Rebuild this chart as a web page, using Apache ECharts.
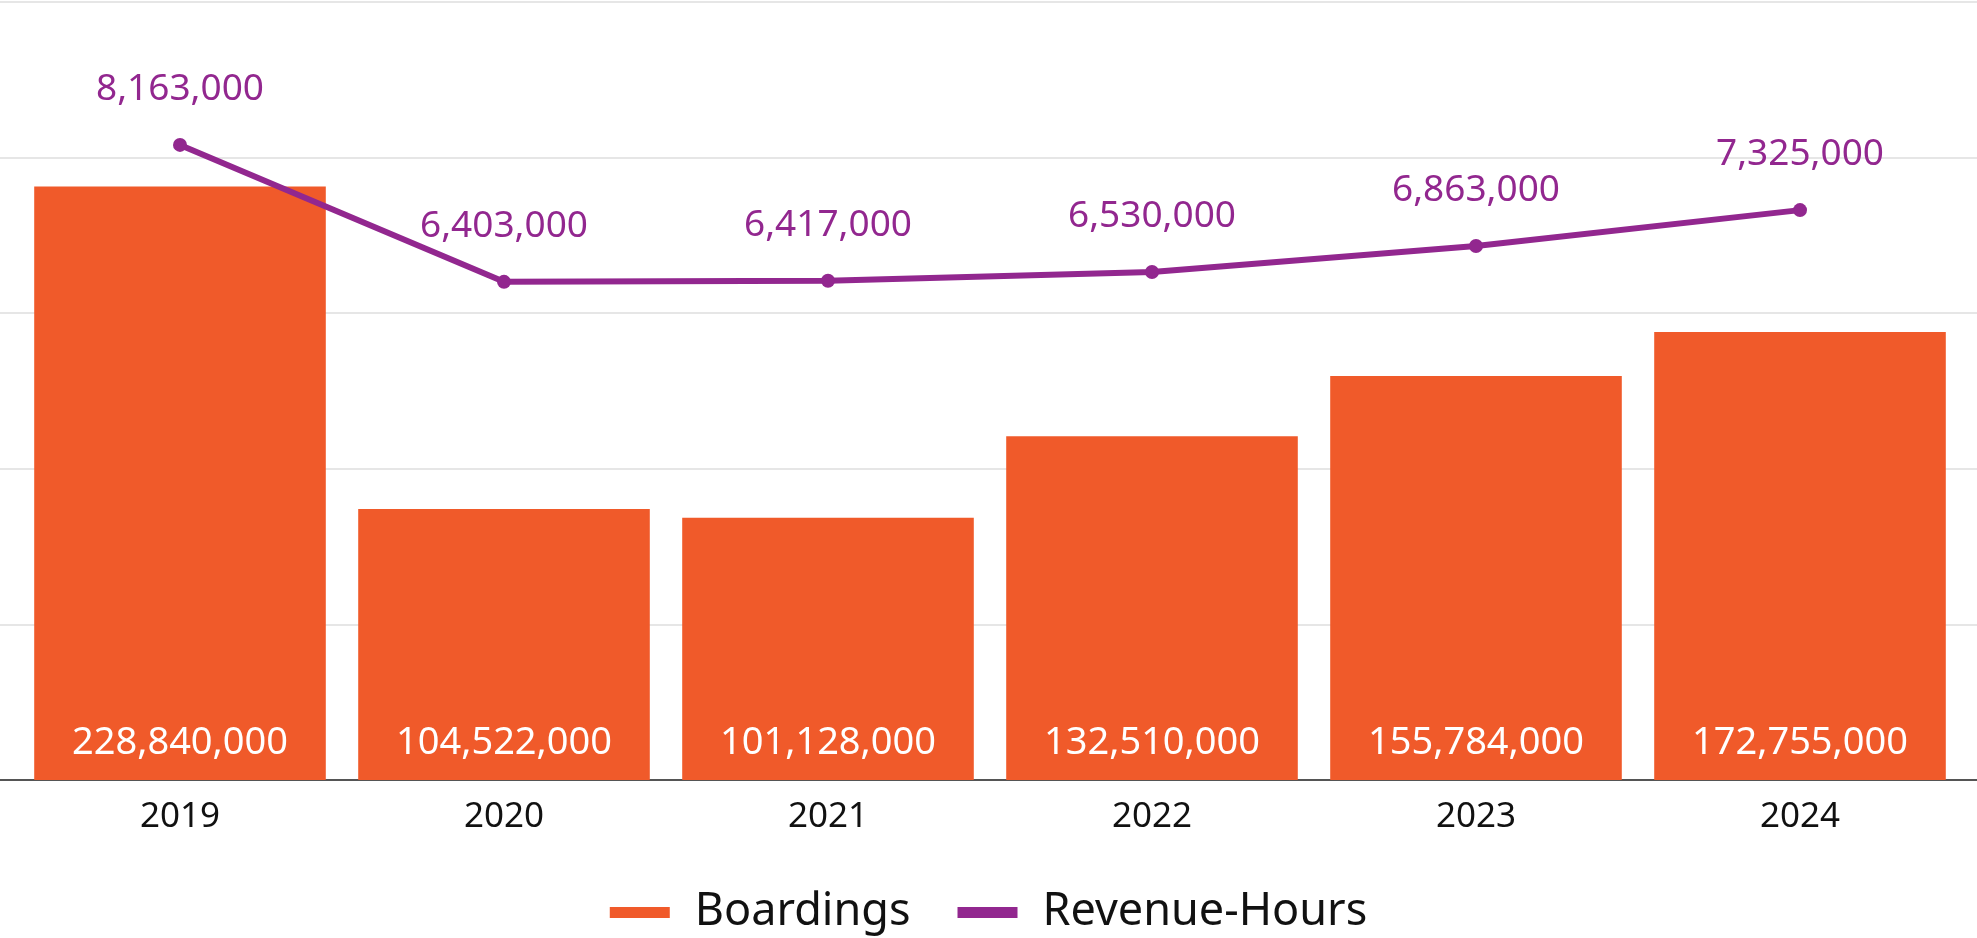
<!DOCTYPE html>
<html>
<head>
<meta charset="utf-8">
<script src="https://cdn.jsdelivr.net/npm/echarts@6/dist/echarts.min.js"></script>
<style>
  html, body { margin: 0; padding: 0; background: #fff; }
  #chart { width: 1977px; height: 938px; }
</style>
</head>
<body>
<div id="chart"></div>
<script>
// data
const years = ['2019', '2020', '2021', '2022', '2023', '2024']
const boardings = [228840000, 104522000, 101128000, 132510000, 155784000, 172755000]
const revenueHours = [8163000, 6403000, 6417000, 6530000, 6863000, 7325000]

const FONT = '"Noto Sans", sans-serif'
const ORANGE = '#F05A2A'
const PURPLE = '#92278F'
const fmt = v => Number(v).toLocaleString('en-US')

const chart = echarts.init(document.getElementById('chart'))
chart.setOption({
    animation: false,
    textStyle: { fontFamily: FONT },
    // grid 0 holds the data, grid 1 only draws full-width gridlines and the base line
    grid: [
        { left: 18, right: 15, top: 2, bottom: 158 },
        { left: 0, right: 0, top: 2, bottom: 158 }
    ],
    legend: {
        top: 885,
        left: 'center',
        itemWidth: 60,
        itemHeight: 11,
        itemGap: 47,
        icon: 'rect',
        textStyle: { fontSize: 45, color: '#111', padding: [0, 0, 0, 20], fontFamily: FONT },
        data: ['Boardings', 'Revenue-Hours']
    },
    xAxis: [
        {
            type: 'category',
            data: years,
            axisLine: { show: false },
            axisTick: { show: false },
            axisLabel: { color: '#111', fontSize: 35, margin: 20, fontFamily: FONT }
        },
        {
            type: 'value',
            gridIndex: 1,
            min: 0,
            max: 1,
            axisLine: { show: true, lineStyle: { color: '#555', width: 2 } },
            axisTick: { show: false },
            axisLabel: { show: false },
            splitLine: { show: false }
        }
    ],
    yAxis: [
        {
            type: 'value',
            min: 0,
            max: 300000000,
            interval: 60000000,
            axisLabel: { show: false },
            axisLine: { show: false },
            axisTick: { show: false },
            splitLine: { show: false }
        },
        {
            type: 'value',
            min: 0,
            max: 10000000,
            interval: 2000000,
            axisLabel: { show: false },
            axisLine: { show: false },
            axisTick: { show: false },
            splitLine: { show: false }
        },
        {
            type: 'value',
            gridIndex: 1,
            min: 0,
            max: 300000000,
            interval: 60000000,
            axisLabel: { show: false },
            axisLine: { show: false },
            axisTick: { show: false },
            splitLine: { lineStyle: { color: '#e6e6e6', width: 2 } }
        }
    ],
    series: [
        {
            name: 'Boardings',
            type: 'bar',
            barWidth: '90%',
            itemStyle: { color: ORANGE },
            label: {
                show: true,
                position: 'insideBottom',
                distance: 18,
                color: '#fff',
                fontSize: 38,
                fontFamily: FONT,
                formatter: p => fmt(p.value)
            },
            data: boardings
        },
        {
            name: 'Revenue-Hours',
            type: 'line',
            yAxisIndex: 1,
            symbol: 'circle',
            symbolSize: 14,
            lineStyle: { color: PURPLE, width: 6 },
            itemStyle: { color: PURPLE },
            label: {
                show: true,
                position: 'top',
                distance: 30,
                color: PURPLE,
                fontSize: 37,
                fontFamily: FONT,
                formatter: p => fmt(p.value)
            },
            data: revenueHours
        }
    ]
})
</script>
</body>
</html>
